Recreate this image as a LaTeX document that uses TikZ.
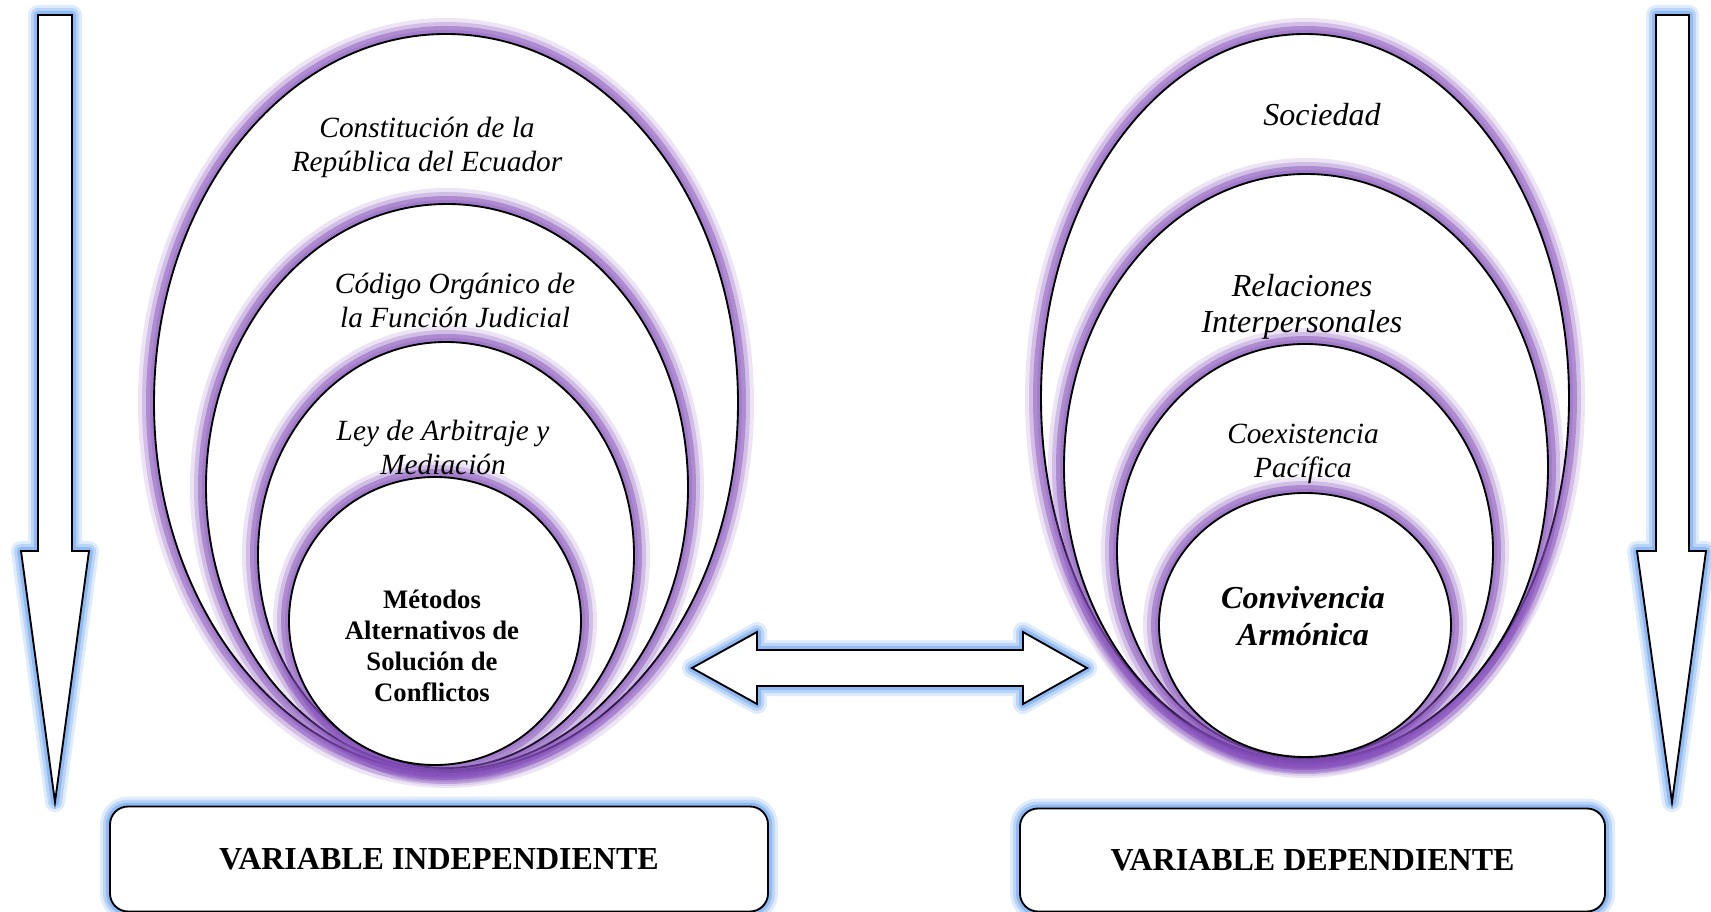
\documentclass[tikz,border=0pt]{standalone}
\usepackage{fontspec}
\setmainfont{Liberation Serif}
\usetikzlibrary{shapes, shapes.geometric}
\usepackage{color}

\definecolor{glowP}{RGB}{132,78,186}
\definecolor{glowB}{RGB}{100,160,240}
\newcommand{\px}{0.375pt}

\tikzset{
    ring/.style={ellipse, draw, fill=white, line width=0.7pt, inner sep=0pt,
        preaction={draw=glowP, line width=12pt, opacity=0.15},
        preaction={draw=glowP, line width=9pt, opacity=0.25},
        preaction={draw=glowP, line width=6pt, opacity=0.45},
        preaction={draw=glowP, line width=3pt, opacity=0.25}},
    blueglow/.style={draw, fill=white, line width=0.7pt,
        preaction={draw=glowB, line width=7.5pt, opacity=0.2, line join=round},
        preaction={draw=glowB, line width=5.25pt, opacity=0.3, line join=round},
        preaction={draw=glowB, line width=3pt, opacity=0.5, line join=round}},
    varbox/.style={rectangle, rounded corners=6.75pt, blueglow, font=\fontsize{12}{14}\selectfont\bfseries},
    lbl/.style={align=center, inner sep=0pt, font=\fontsize{11}{12.75}\selectfont\itshape}
}

\begin{document}
\begin{tikzpicture}[x=\px, y=-\px]
            \useasboundingbox (0,0) rectangle (1711,912);

            % flechas verticales
            \draw[blueglow] (38,15) -- (72,15) -- (72,551) -- (89,551) -- (55,802) -- (21,551) -- (38,551) -- cycle;
            \draw[blueglow] (1656,15) -- (1689,15) -- (1689,551) -- (1706,551) -- (1672,802) -- (1637,551) -- (1656,551) -- cycle;

            % variable independiente
            \node[ring, minimum width=584*\px, minimum height=738*\px] (l1) at (446,403) {};
            \node[ring, minimum width=482*\px, minimum height=566*\px] (l2) at (447,487) {};
            \node[ring, minimum width=376*\px, minimum height=426*\px] (l3) at (446,555) {};
            \node[ring, minimum width=292*\px, minimum height=288*\px] (l4) at (435,621) {};

            \node[lbl] (tl1) at (427,147) {Constitución de la\\República del Ecuador};
            \node[lbl] (tl2) at (455,300) {Código Orgánico de\\la Función Judicial};
            \node[lbl] (tl3) at (443,447) {Ley de Arbitraje y\\Mediación};
            \node[align=center, inner sep=0pt, font=\fontsize{10}{11.6}\selectfont\bfseries] (tl4) at (432,646) {Métodos\\Alternativos de\\Solución de\\Conflictos};

            % variable dependiente
            \node[ring, minimum width=528*\px, minimum height=728*\px] (r1) at (1305,398) {};
            \node[ring, minimum width=484*\px, minimum height=586*\px] (r2) at (1306,467) {};
            \node[ring, minimum width=376*\px, minimum height=414*\px] (r3) at (1305,551) {};
            \node[ring, minimum width=292*\px, minimum height=264*\px] (r4) at (1305,625) {};

            \node[lbl, font=\fontsize{12}{13.5}\selectfont\itshape] (tr1) at (1322,115) {Sociedad};
            \node[lbl, font=\fontsize{12}{13.5}\selectfont\itshape] (tr2) at (1302,307) {Relaciones\\Interpersonales};
            \node[lbl] (tr3) at (1303,454) {Coexistencia\\Pacífica};
            \node[align=center, inner sep=0pt, font=\fontsize{12}{13.9}\selectfont\bfseries\itshape] (tr4) at (1303,616) {Convivencia\\Armónica};

            % flecha doble
            \draw[blueglow] (692,668) -- (757,632) -- (757,650) -- (1023,650) -- (1023,632) -- (1087,668) -- (1023,704) -- (1023,686) -- (757,686) -- (757,704) -- cycle;

            % cajas
            \node[varbox, minimum width=658*\px, minimum height=105*\px] (vi) at (439,859) {VARIABLE INDEPENDIENTE};
            \node[varbox, minimum width=585*\px, minimum height=103*\px] (vd) at (1312.5,860) {VARIABLE DEPENDIENTE};
\end{tikzpicture}
\end{document}
